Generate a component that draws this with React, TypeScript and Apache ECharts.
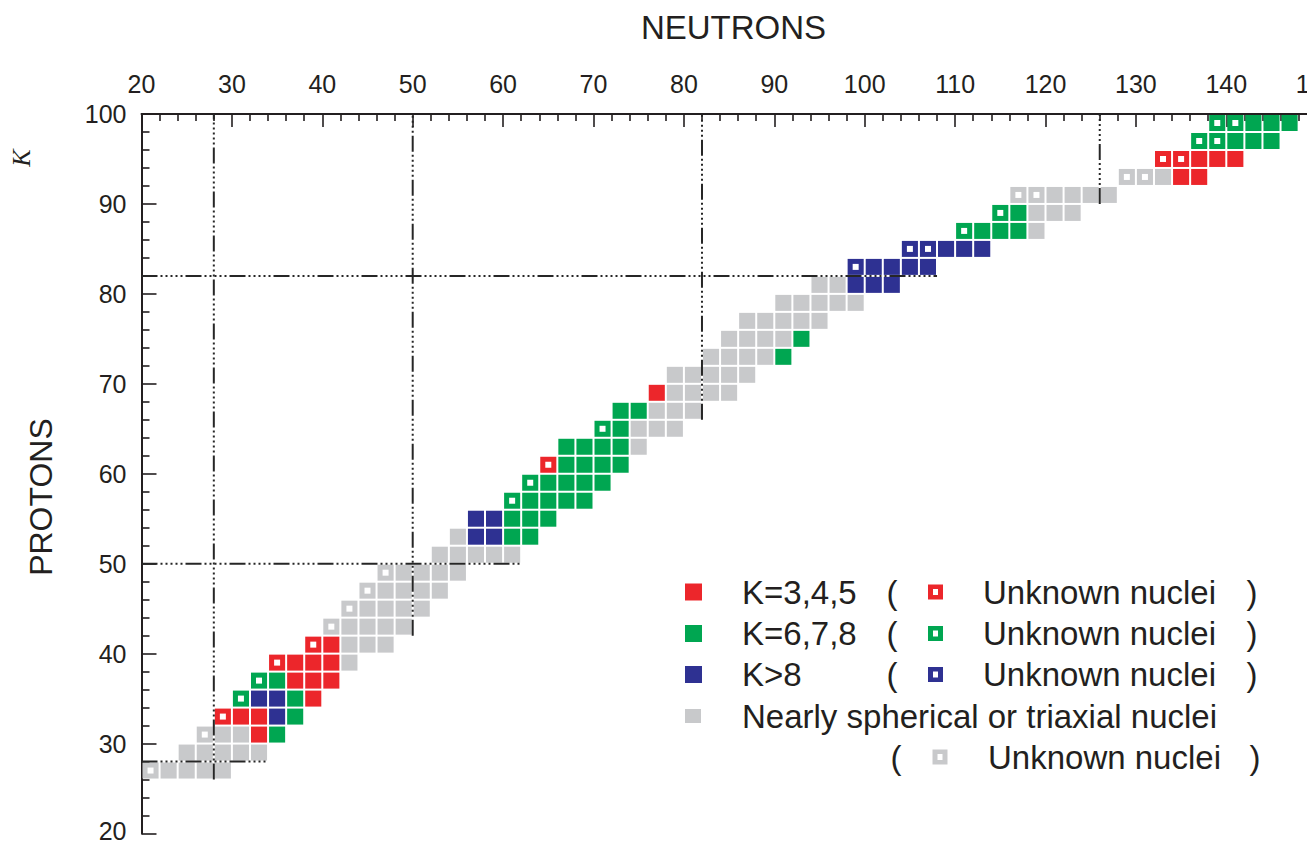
import React, { useEffect, useRef } from "react";
import * as echarts from "echarts";

// Even-even nuclei on the N-Z plane. Each cell is [N, Z, unknown] where the
// cell covers N..N+2 and Z..Z+2; unknown = 1 marks nuclei not yet observed.
const K345_CELLS = [
  [32, 30, 0],
  [28, 32, 1], [30, 32, 0], [32, 32, 0],
  [38, 34, 0],
  [36, 36, 0], [38, 36, 0], [40, 36, 0],
  [34, 38, 1], [36, 38, 0], [38, 38, 0], [40, 38, 0],
  [38, 40, 1], [40, 40, 0],
  [64, 60, 1],
  [76, 68, 0],
  [134, 92, 0], [136, 92, 0],
  [132, 94, 1], [134, 94, 1], [136, 94, 0], [138, 94, 0], [140, 94, 0],
];

const K678_CELLS = [
  [34, 30, 0],
  [36, 32, 0],
  [30, 34, 1], [36, 34, 0],
  [32, 36, 1], [34, 36, 0],
  [60, 52, 0], [62, 52, 0],
  [60, 54, 0], [62, 54, 0], [64, 54, 0],
  [60, 56, 1], [62, 56, 0], [64, 56, 0], [66, 56, 0], [68, 56, 0],
  [62, 58, 1], [64, 58, 0], [66, 58, 0], [68, 58, 0], [70, 58, 0],
  [66, 60, 0], [68, 60, 0], [70, 60, 0], [72, 60, 0],
  [66, 62, 0], [68, 62, 0], [70, 62, 0], [72, 62, 0],
  [70, 64, 1], [72, 64, 0],
  [72, 66, 0], [74, 66, 0],
  [90, 72, 0],
  [92, 74, 0],
  [110, 86, 1], [112, 86, 0], [114, 86, 0], [116, 86, 0],
  [114, 88, 1], [116, 88, 0],
  [136, 96, 1], [138, 96, 1], [140, 96, 0], [142, 96, 0], [144, 96, 0],
  [138, 98, 1], [140, 98, 1], [142, 98, 0], [144, 98, 0], [146, 98, 0],
];

const KGT8_CELLS = [
  [34, 32, 0],
  [32, 34, 0], [34, 34, 0],
  [56, 52, 0], [58, 52, 0],
  [56, 54, 0], [58, 54, 0],
  [98, 80, 0], [100, 80, 0], [102, 80, 0],
  [98, 82, 1], [100, 82, 0], [102, 82, 0], [104, 82, 0], [106, 82, 0],
  [104, 84, 1], [106, 84, 1], [108, 84, 0], [110, 84, 0], [112, 84, 0],
];

const SPHERICAL_CELLS = [
  [20, 26, 1], [22, 26, 0], [24, 26, 0], [26, 26, 0], [28, 26, 0],
  [24, 28, 0], [26, 28, 0], [28, 28, 0], [30, 28, 0], [32, 28, 0],
  [26, 30, 1], [28, 30, 0], [30, 30, 0],
  [42, 38, 0],
  [42, 40, 0], [44, 40, 0], [46, 40, 0],
  [40, 42, 1], [42, 42, 0], [44, 42, 0], [46, 42, 0], [48, 42, 0],
  [42, 44, 1], [44, 44, 0], [46, 44, 0], [48, 44, 0], [50, 44, 0],
  [44, 46, 1], [46, 46, 0], [48, 46, 0], [50, 46, 0], [52, 46, 0],
  [46, 48, 1], [48, 48, 0], [50, 48, 0], [52, 48, 0], [54, 48, 0],
  [52, 50, 0], [54, 50, 0], [56, 50, 0], [58, 50, 0], [60, 50, 0],
  [54, 52, 0],
  [74, 62, 0],
  [74, 64, 0], [76, 64, 0], [78, 64, 0],
  [76, 66, 0], [78, 66, 0], [80, 66, 0],
  [78, 68, 0], [80, 68, 0], [82, 68, 0], [84, 68, 0],
  [78, 70, 0], [80, 70, 0], [82, 70, 0], [84, 70, 0], [86, 70, 0],
  [82, 72, 0], [84, 72, 0], [86, 72, 0], [88, 72, 0],
  [84, 74, 0], [86, 74, 0], [88, 74, 0], [90, 74, 0],
  [86, 76, 0], [88, 76, 0], [90, 76, 0], [92, 76, 0], [94, 76, 0],
  [90, 78, 0], [92, 78, 0], [94, 78, 0], [96, 78, 0], [98, 78, 0],
  [94, 80, 0], [96, 80, 0],
  [118, 86, 0],
  [118, 88, 0], [120, 88, 0], [122, 88, 0],
  [116, 90, 1], [118, 90, 1], [120, 90, 0], [122, 90, 0], [124, 90, 0], [126, 90, 0],
  [128, 92, 1], [130, 92, 1], [132, 92, 0],
];

// Magic numbers and the extent of their guide lines
const MAGIC_N = [28, 50, 82, 126];
const MAGIC_N_Z_RANGE = [[26, 100], [42, 100], [66, 100], [90, 100]];
const MAGIC_Z = [28, 50, 82];
const MAGIC_Z_N_RANGE = [[20, 34], [20, 62], [20, 108]];

const LEGEND_LABELS = ["K=3,4,5", "K=6,7,8", "K>8", "Nearly spherical or triaxial nuclei"];
const UNKNOWN_LABEL = "Unknown nuclei";

const COLORS = ["#EC262B", "#00A651", "#2E3192", "#C8C9CB"];
const INK = "#231F20";
const FONT = "'Liberation Sans', Arial, Helvetica, sans-serif";

const makeRenderItem = (color: string) => (_params: any, api: any) => {
  const n = api.value(0);
  const z = api.value(1);
  const unknown = api.value(2);
  const tl = api.coord([n, z + 2]);
  const br = api.coord([n + 2, z]);
  const w = br[0] - tl[0];
  const h = br[1] - tl[1];
  const gap = 1;
  const children: any[] = [
    {
      type: "rect",
      shape: { x: tl[0] + gap, y: tl[1] + gap, width: w - 2 * gap, height: h - 2 * gap },
      style: { fill: color },
    },
  ];
  if (unknown) {
    children.push({
      type: "rect",
      shape: { x: tl[0] + w / 2 - 3, y: tl[1] + h / 2 - 3, width: 6, height: 6 },
      style: { fill: "#ffffff" },
    });
  }
  return { type: "group", children };
};

const MAGIC_DASH = [16, 3, 2, 3, 2, 3, 2, 3, 2, 3, 2, 3];

function buildLegend() {
  const els: any[] = [];
  const rowY = [592, 633.5, 674.5, 716];
  LEGEND_LABELS.forEach((label, i) => {
    const y = rowY[i];
    const sq = i === 3 ? { w: 16, h: 14 } : { w: 17, h: 17 };
    els.push({
      type: "rect",
      shape: { x: 685, y: y - sq.h / 2, width: sq.w, height: sq.h },
      style: { fill: COLORS[i] },
    });
    els.push({
      type: "text",
      x: 742,
      y,
      style: { text: label, fontSize: 33, fontFamily: FONT, fill: INK, align: "left", verticalAlign: "middle" },
    });
  });
  const unknownRows = [
    { y: 592, open: 892, box: 935.5, text: 983, close: 1252, color: COLORS[0] },
    { y: 633.5, open: 892, box: 935.5, text: 983, close: 1252, color: COLORS[1] },
    { y: 674.5, open: 892, box: 935.5, text: 983, close: 1252, color: COLORS[2] },
    { y: 757, open: 896, box: 940, text: 988, close: 1255, color: COLORS[3] },
  ];
  unknownRows.forEach((r) => {
    els.push({
      type: "text",
      x: r.open,
      y: r.y,
      style: { text: "(", fontSize: 33, fontFamily: FONT, fill: INK, align: "center", verticalAlign: "middle" },
    });
    els.push({
      type: "rect",
      shape: { x: r.box - 7.5, y: r.y - 7.5, width: 15, height: 15 },
      style: { fill: r.color },
    });
    els.push({
      type: "rect",
      shape: { x: r.box - 2.5, y: r.y - 3, width: 5, height: 6 },
      style: { fill: "#ffffff" },
    });
    els.push({
      type: "text",
      x: r.text,
      y: r.y,
      style: { text: UNKNOWN_LABEL, fontSize: 33, fontFamily: FONT, fill: INK, align: "left", verticalAlign: "middle" },
    });
    els.push({
      type: "text",
      x: r.close,
      y: r.y,
      style: { text: ")", fontSize: 33, fontFamily: FONT, fill: INK, align: "center", verticalAlign: "middle" },
    });
  });
  return els;
}

export default function App() {
  const ref = useRef<HTMLDivElement>(null);

  useEffect(() => {
    if (!ref.current) return;
    const chart = echarts.init(ref.current, undefined, { renderer: "svg" });

    const cellSeries = [K345_CELLS, K678_CELLS, KGT8_CELLS, SPHERICAL_CELLS].map((cells, i) => ({
      type: "custom",
      name: LEGEND_LABELS[i],
      renderItem: makeRenderItem(COLORS[i]),
      encode: { x: 0, y: 1 },
      data: cells,
      silent: true,
      z: 2,
    }));

    const lineCommon = {
      type: "line",
      showSymbol: false,
      symbol: "none",
      silent: true,
      z: 5,
      lineStyle: { color: "#262626", width: 2, type: MAGIC_DASH },
    };
    const magicN = MAGIC_N.map((n, i) => ({
      ...lineCommon,
      data: [[n, MAGIC_N_Z_RANGE[i][0]], [n, MAGIC_N_Z_RANGE[i][1]]],
    }));
    const magicZ = MAGIC_Z.map((z, i) => ({
      ...lineCommon,
      data: [[MAGIC_Z_N_RANGE[i][0], z], [MAGIC_Z_N_RANGE[i][1], z]],
    }));

    const axisCommon = {
      type: "value",
      interval: 10,
      splitLine: { show: false },
      axisLine: { show: true, onZero: false, lineStyle: { color: INK, width: 2 } },
    };

    chart.setOption({
      animation: false,
      backgroundColor: "#ffffff",
      // the neutron axis runs on past the visible right edge (N = 150)
      grid: {
        left: 141.5,
        top: 114,
        right: 13.3,
        bottom: 7.5,
        containLabel: false,
        outerBoundsMode: "none",
      },
      xAxis: {
        ...axisCommon,
        position: "top",
        min: 20,
        max: 150,
        axisTick: { show: true, inside: true, length: 13, lineStyle: { color: INK, width: 1.6 } },
        minorTick: { show: true, splitNumber: 5, length: 7, lineStyle: { color: INK, width: 1.6 } },
        axisLabel: { fontSize: 25, color: INK, fontFamily: FONT, margin: 18 },
      },
      yAxis: {
        ...axisCommon,
        position: "left",
        min: 20,
        max: 100,
        axisTick: { show: true, inside: true, length: 15, lineStyle: { color: INK, width: 1.6 } },
        minorTick: { show: true, splitNumber: 5, length: 8, lineStyle: { color: INK, width: 1.6 } },
        axisLabel: {
          fontSize: 25,
          color: INK,
          fontFamily: FONT,
          margin: 15,
          // the lowest label sits a little above its tick so it stays on the page
          formatter: (v: number) => (v === 20 ? "{low|20}" : String(v)),
          rich: { low: { fontSize: 25, color: INK, fontFamily: FONT, padding: [0, 0, 6, 0] } },
        },
      },
      graphic: [
        {
          type: "text",
          x: 733.5,
          y: 27,
          style: { text: "NEUTRONS", fontSize: 33, fontFamily: FONT, fill: INK, align: "center", verticalAlign: "middle" },
        },
        {
          type: "text",
          x: 41,
          y: 497,
          rotation: Math.PI / 2,
          style: { text: "PROTONS", fontSize: 32, fontFamily: FONT, fill: INK, align: "center", verticalAlign: "middle" },
        },
        {
          type: "text",
          x: 21,
          y: 158,
          rotation: Math.PI / 2,
          style: {
            text: "K",
            fontSize: 26,
            fontStyle: "italic",
            fontFamily: "'Liberation Serif', 'Times New Roman', serif",
            fill: INK,
            align: "center",
            verticalAlign: "middle",
          },
        },
        ...buildLegend(),
      ],
      series: [...cellSeries, ...magicN, ...magicZ],
    });

    return () => chart.dispose();
  }, []);

  return (
    <div
      style={{
        position: "absolute",
        left: 0,
        top: 0,
        width: 1307,
        height: 841,
        overflow: "hidden",
        background: "#ffffff",
      }}
    >
      <div ref={ref} style={{ width: 1330, height: 841 }} />
    </div>
  );
}
